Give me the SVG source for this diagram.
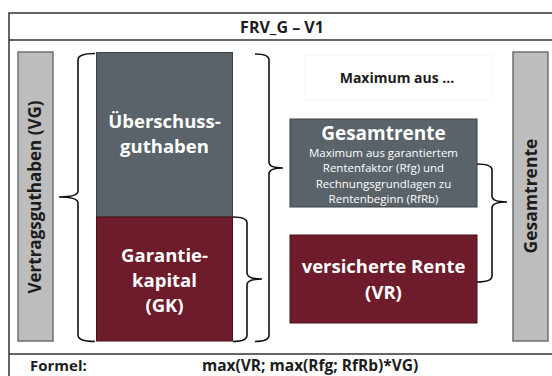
<svg xmlns="http://www.w3.org/2000/svg" width="552" height="376" viewBox="0 0 552 376">
  <style>
    text { font-family: "Open Sans", Lato, "Liberation Sans", sans-serif; font-weight: bold; }
    .dark { fill: #5a6369; stroke: #3c4246; stroke-width: 1; }
    .red { fill: #6e1c2c; stroke: #4a1019; stroke-width: 1; }
    .bar { fill: #bdbdbd; stroke: #6f6f6f; stroke-width: 1.5; }
    .brace { fill: none; stroke: #111; stroke-width: 1.6; }
    .frame { stroke: #333; stroke-width: 1.5; fill: none; }
    .w { fill: #ffffff; text-anchor: middle; }
    .k { fill: #1c1c1c; text-anchor: middle; }
    .n { font-weight: normal; }
  </style>

  <rect x="0" y="0" width="552" height="376" fill="#ffffff"/>

  <!-- outer frame with header and footer rows -->
  <g id="frame">
    <path class="frame" d="M9,376 L9,13 L552,13"/>
    <line class="frame" x1="9" y1="40" x2="552" y2="40" stroke="#222"/>
    <line class="frame" x1="9" y1="354" x2="552" y2="354" stroke="#666" stroke-width="2"/>
  </g>

  <g id="title">
    <text class="k" x="282" y="33" font-size="16">FRV_G – V1</text>
  </g>

  <g id="vertragsguthaben">
    <rect class="bar" x="18" y="52" width="35" height="289"/>
    <text class="k" transform="translate(41,197) rotate(-90)" font-size="17">Vertragsguthaben (VG)</text>
  </g>

  <g id="ueberschussguthaben">
    <rect class="dark" x="96.5" y="52.5" width="136" height="164.5"/>
    <text class="w" x="164.5" y="128" font-size="18.5">Überschuss-</text>
    <text class="w" x="164.5" y="153" font-size="18.5">guthaben</text>
  </g>

  <g id="garantiekapital">
    <rect class="red" x="96.5" y="217" width="136" height="124"/>
    <text class="w" x="164.5" y="262" font-size="18.5">Garantie-</text>
    <text class="w" x="164.5" y="287" font-size="18.5">kapital</text>
    <text class="w" x="164.5" y="312" font-size="18.5">(GK)</text>
  </g>

  <g id="maximum-aus">
    <rect x="305" y="55" width="188" height="45" fill="none" stroke="#f6f6f6" stroke-width="1"/>
    <text class="k" x="397" y="83" font-size="14">Maximum aus ...</text>
  </g>

  <g id="gesamtrente-box">
    <rect class="dark" x="290" y="119" width="187" height="88"/>
    <text class="w" x="383.5" y="140" font-size="19">Gesamtrente</text>
    <text class="w n" x="383.5" y="157" font-size="11.5">Maximum aus garantiertem</text>
    <text class="w n" x="383.5" y="172" font-size="11.5">Rentenfaktor (Rfg) und</text>
    <text class="w n" x="383.5" y="187.5" font-size="11.5">Rechnungsgrundlagen zu</text>
    <text class="w n" x="383.5" y="203" font-size="11.5">Rentenbeginn (RfRb)</text>
  </g>

  <g id="versicherte-rente">
    <rect class="red" x="290" y="235" width="187" height="88"/>
    <text class="w" x="383.5" y="273" font-size="18.5">versicherte Rente</text>
    <text class="w" x="383.5" y="299" font-size="18.5">(VR)</text>
  </g>

  <g id="gesamtrente-bar">
    <rect class="bar" x="513" y="52" width="35" height="289"/>
    <text class="k" transform="translate(536.5,196) rotate(-90)" font-size="17.5">Gesamtrente</text>
  </g>

  <!-- curly braces grouping the blocks -->
  <g id="connectors">
    <path class="brace" d="M95,53.5 Q78,53.5 78,60 L78,191 Q78,197 59,197 Q78,197 78,203 L78,335 Q78,341.5 95,341.5"/>
    <path class="brace" d="M255,54 Q269,54 269,60 L269,162 Q269,168 283,168 Q269,168 269,174 L269,335 Q269,341.5 255,341.5"/>
    <path class="brace" d="M233,217 Q247,217 247,223 L247,273 Q247,279 262,279 Q247,279 247,285 L247,335 Q247,341.5 233,341.5"/>
    <path class="brace" d="M477,164 Q492,164 492,170 L492,196 Q492,202 507,202 Q492,202 492,208 L492,276 Q492,282 477,282"/>
  </g>

  <g id="formel">
    <text x="30" y="370.5" font-size="15" fill="#1c1c1c">Formel:</text>
    <text x="202" y="370.5" font-size="15.5" fill="#1c1c1c">max(VR; max(Rfg; RfRb)*VG)</text>
  </g>
</svg>
